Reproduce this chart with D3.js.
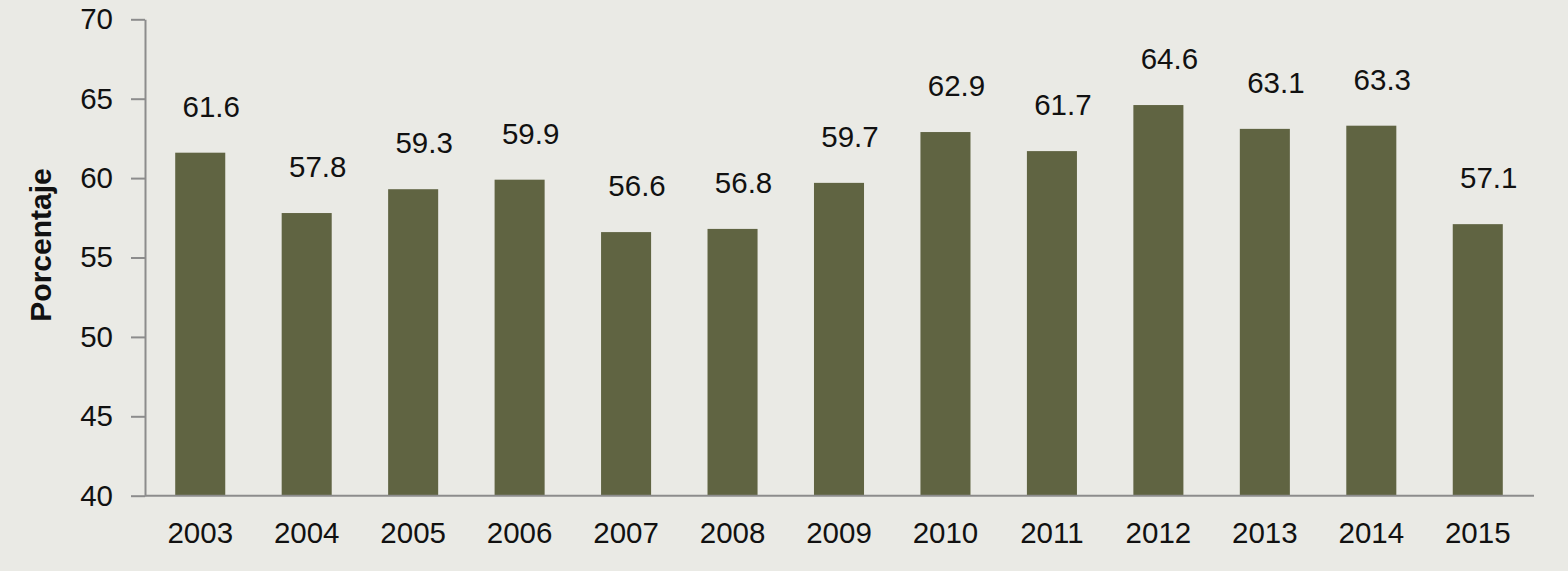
<!DOCTYPE html>
<html lang="es">
<head>
  <meta charset="UTF-8">
  <title>Porcentaje por año</title>
</head>
<style>
  body {
    margin: 0;
    background: #eaeae5;
  }
  text {
    font-family: "Liberation Sans", Arial, Helvetica, sans-serif;
    fill: #111;
  }
  .axis path, .axis line {
    stroke: #8c8c8c;
    stroke-width: 2px;
  }
  .bar {
    fill: #606442;
  }
</style>
<body>

<div id="chart"></div>

<script src="https://d3js.org/d3.v7.min.js"></script>

<script>
/* global d3 */

var years = ["2003", "2004", "2005", "2006", "2007", "2008", "2009",
             "2010", "2011", "2012", "2013", "2014", "2015"];
var values = [61.6, 57.8, 59.3, 59.9, 56.6, 56.8, 59.7, 62.9, 61.7, 64.6, 63.1, 63.3, 57.1];
var yTicks = [40, 45, 50, 55, 60, 65, 70];

var width = 1568;
var height = 571;
var margin = {top: 19, right: 34, bottom: 75, left: 145};

var svg = d3.select("#chart")
    .append("svg")
    .attr("width", width)
    .attr("height", height);

var x = d3.scaleBand()
    .domain(years)
    .range([147, 1531])
    .paddingInner(0.53)
    .paddingOuter(0.265);

var y = d3.scaleLinear()
    .domain([40, 70])
    .range([height - margin.bottom - 0.3, margin.top + 0.3]);

var data = years.map(function(d, i) {
  return {year: d, value: values[i]};
});

// bars
svg.selectAll(".bar")
    .data(data)
    .enter()
    .append("rect")
    .attr("class", "bar")
    .attr("x", function(d) { return x(d.year); })
    .attr("width", x.bandwidth())
    .attr("y", function(d) { return y(d.value); })
    .attr("height", function(d) { return y(40) - y(d.value); });

// value labels (sit a little right of the bar centre, as in the original)
svg.selectAll(".label")
    .data(data)
    .enter()
    .append("text")
    .attr("class", "label")
    .attr("x", function(d) { return x(d.year) + x.bandwidth() / 2 + 11; })
    .attr("y", function(d) { return y(d.value) - 36; })
    .attr("text-anchor", "middle")
    .style("font-size", "29.5px")
    .text(function(d) { return d.value.toFixed(1); });

// y axis
var yAxis = svg.append("g")
    .attr("class", "axis")
    .attr("transform", "translate(" + margin.left + ",0)")
    .call(d3.axisLeft(y).tickValues(yTicks).tickSize(14).tickSizeOuter(0).tickPadding(18));
yAxis.selectAll("text")
    .style("font-size", "29.5px")
    .style("fill", "#111");

// x axis
var xAxis = svg.append("g")
    .attr("class", "axis")
    .attr("transform", "translate(0," + y(40) + ")")
    .call(d3.axisBottom(x).tickSize(0).tickSizeOuter(0).tickPadding(26));
xAxis.select(".domain")
    .attr("d", "M" + margin.left + ",0H" + (width - margin.right));
xAxis.selectAll("text")
    .style("font-size", "29.5px")
    .style("fill", "#111");

// y axis title
svg.append("text")
    .attr("transform", "translate(51,245) rotate(-90)")
    .attr("text-anchor", "middle")
    .style("font-size", "30px")
    .style("font-weight", "bold")
    .text("Porcentaje");

</script>

</body>
</html>
